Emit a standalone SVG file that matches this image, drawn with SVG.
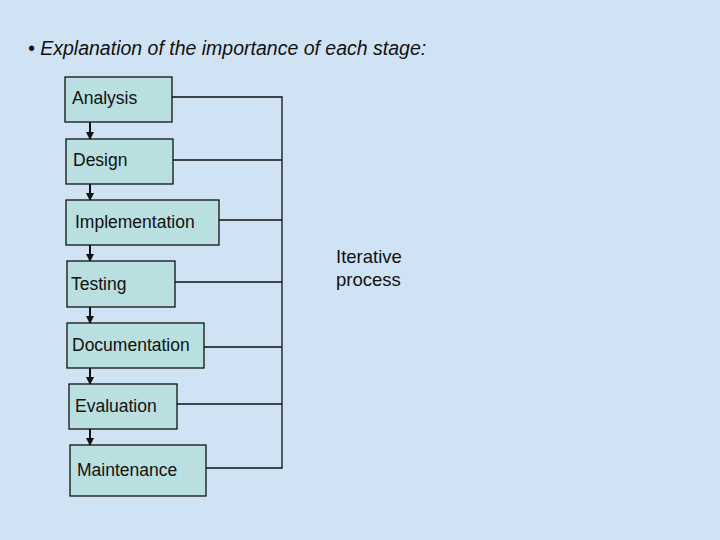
<svg xmlns="http://www.w3.org/2000/svg" width="720" height="540" viewBox="0 0 720 540">
<defs>
<style>
.box{fill:#b9dfe0;stroke:#111;stroke-width:1.3}
.t{font-family:"Liberation Sans",Arial,sans-serif;font-size:17.5px;fill:#111}
.c{stroke:#111;stroke-width:1.3;fill:none}
.a{stroke:#111;stroke-width:2;fill:none}
</style>
<marker id="ah" markerWidth="8" markerHeight="8" refX="7" refY="4" orient="auto" markerUnits="userSpaceOnUse"><path d="M0,0L8,4L0,8z" fill="#111"/></marker>
</defs>
<rect width="720" height="540" fill="#cfe3f4"/>
<text x="28" y="55" class="t" font-style="italic" style="font-size:19.5px">• Explanation of the importance of each stage:</text>
<g id="connectors">
<path class="a" marker-end="url(#ah)" d="M90,122V139"/>
<path class="a" marker-end="url(#ah)" d="M90,184V200"/>
<path class="a" marker-end="url(#ah)" d="M90,245V261"/>
<path class="a" marker-end="url(#ah)" d="M90,307V323"/>
<path class="a" marker-end="url(#ah)" d="M90,368V384"/>
<path class="a" marker-end="url(#ah)" d="M90,429V445"/>
<path class="c" d="M172,97H282V468H206M173,160H282M219,220H282M175,282H282M204,347H282M177,404H282"/>
</g>
<g id="analysis"><rect class="box" x="65" y="77" width="107" height="45"/><text class="t" x="72" y="104">Analysis</text></g>
<g id="design"><rect class="box" x="66" y="139" width="107" height="45"/><text class="t" x="73" y="166">Design</text></g>
<g id="implementation"><rect class="box" x="66" y="200" width="153" height="45"/><text class="t" x="75" y="228">Implementation</text></g>
<g id="testing"><rect class="box" x="67" y="261" width="108" height="46"/><text class="t" x="71" y="290">Testing</text></g>
<g id="documentation"><rect class="box" x="67" y="323" width="137" height="45"/><text class="t" x="72" y="351">Documentation</text></g>
<g id="evaluation"><rect class="box" x="69" y="384" width="108" height="45"/><text class="t" x="75" y="412">Evaluation</text></g>
<g id="maintenance"><rect class="box" x="70" y="445" width="136" height="51"/><text class="t" x="77" y="476">Maintenance</text></g>
<g id="label"><text class="t" x="336" y="263" style="font-size:18.5px">Iterative</text><text class="t" x="336" y="286" style="font-size:18.5px">process</text></g>
</svg>
